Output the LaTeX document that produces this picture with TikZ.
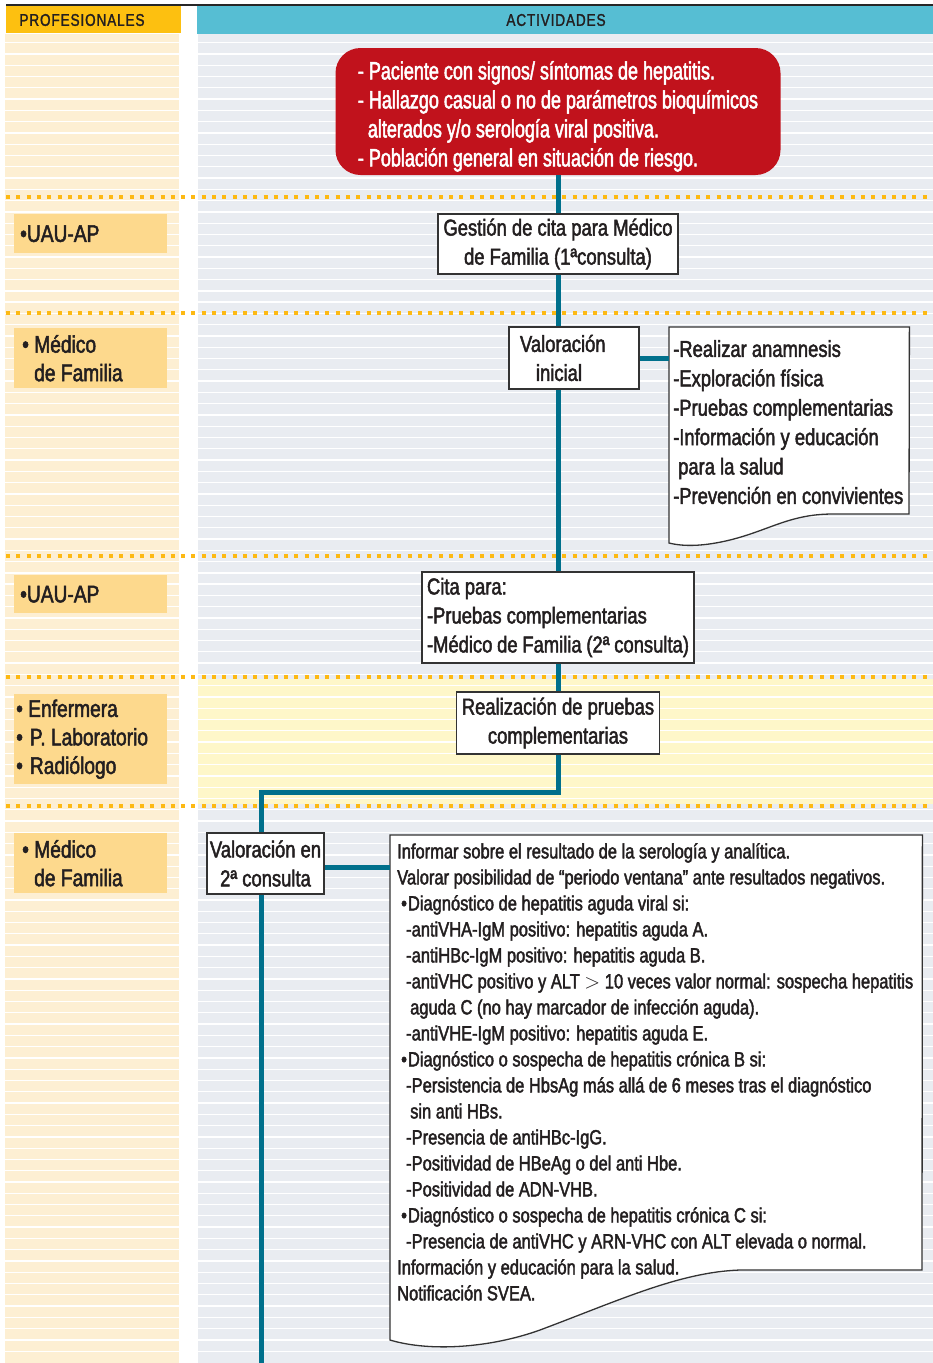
\documentclass[tikz,border=0pt]{standalone}
\usepackage{fontspec}
\setmainfont[FakeStretch=0.8,FakeBold=2]{Liberation Sans}
\newfontfamily\alertfont[FakeStretch=0.72,FakeBold=2]{Liberation Sans}
\newfontfamily\headfont[FakeStretch=0.8,FakeBold=1.5,LetterSpace=5]{Liberation Sans}
\usetikzlibrary{calc}
\definecolor{crema}{HTML}{FDEFD3}
\definecolor{grisfondo}{HTML}{E9ECF1}
\definecolor{amarillo}{HTML}{FEF7C9}
\definecolor{naranja}{HTML}{FDC010}
\definecolor{cian}{HTML}{56BED3}
\definecolor{rolfondo}{HTML}{FDD98D}
\definecolor{puntos}{HTML}{FDB913}
\definecolor{azulflujo}{HTML}{00708C}
\definecolor{rojo}{HTML}{C1121C}
\definecolor{lineagris}{HTML}{333333}
\definecolor{tinta}{HTML}{231F20}

\begin{document}
\begin{tikzpicture}[x=1pt,y=-1pt,
  flowbox/.style={draw=lineagris, line width=1.3pt, fill=white, text=tinta, inner sep=0pt, font=\fontsize{23}{29}\selectfont},
  rolebox/.style={fill=rolfondo, text=tinta, anchor=north west, minimum width=153pt, text width=141pt, inner xsep=6pt, inner ysep=0pt, align=flush left, font=\fontsize{24}{28.5}\selectfont},
  docbox/.style={draw=lineagris, line width=1.3pt, fill=white},
  doctext/.style={anchor=north west, align=left, inner sep=0pt, text=tinta},
  separador/.style={draw=puntos, line width=4pt, dash pattern=on 4pt off 6.3pt},
  flujo/.style={draw=azulflujo, line width=5pt}]
\useasboundingbox (0,0) rectangle (933,1363);

\fill[crema] (5,34) rectangle (179,1363);
\fill[grisfondo] (198,34) rectangle (933,1363);
\fill[amarillo] (198,679) rectangle (933,804);
\foreach \k in {0,...,116}
  \draw[white, line width=1.3pt] (5,{42.7+11.28*\k}) -- (933,{42.7+11.28*\k});

\fill[naranja] (6,6) rectangle (181,33);
\fill[cian] (197,6) rectangle (933,34);
\draw[black!85, line width=2.5pt] (6,5) -- (933,5);
\node[font=\headfont\fontsize{17}{20}\selectfont, text=tinta] (profes) at (82,20) {PROFESIONALES};
\node[font=\headfont\fontsize{17}{20}\selectfont, text=tinta] (activ) at (556,20) {ACTIVIDADES};

\foreach \y in {197.3,312.7,555.7,677,806}
  \draw[separador] (6,\y) -- (933,\y);

\node[rolebox, minimum height=39pt] (uau1) at (14,214) {•UAU-AP};
\node[rolebox, minimum height=60pt] (medico1) at (14,328) {\hspace*{2pt}• Médico\\\hspace*{14pt}de Familia};
\node[rolebox, minimum height=38pt] (uau2) at (14,575) {•UAU-AP};
\node[rolebox, minimum height=90pt] (enfer) at (14,694) {\hspace*{-4pt}• Enfermera\\\hspace*{-4pt}•\hspace{7pt}P. Laboratorio\\\hspace*{-4pt}•\hspace{7pt}Radiólogo};
\node[rolebox, minimum height=60pt] (medico2) at (14,833) {\hspace*{2pt}• Médico\\\hspace*{14pt}de Familia};

\node[fill=rojo, rounded corners=25pt, minimum width=445pt, minimum height=127pt, align=left, text=white, font=\alertfont\fontsize{25}{29}\selectfont] (alerta) at (558,111.5)
  {\rule{0pt}{28pt}- Paciente con signos/ síntomas de hepatitis.\\- Hallazgo casual o no de parámetros bioquímicos\\\hspace*{10pt}alterados y/o serología viral  positiva.\\- Población general en situación de riesgo.};

\node[flowbox, minimum width=240pt, minimum height=60pt, align=center] (gestion) at (558,244) {Gestión de cita para Médico\\de Familia (1ªconsulta)};
\node[flowbox, minimum width=130pt, minimum height=62pt, text width=108pt, align=flush left] (valini) at (574,358) {Valoración\\\hspace*{16pt}inicial};

\node[anchor=north west, minimum width=240pt, minimum height=218pt, inner sep=0pt] (tareas) at (669,327) {};
\draw[docbox] (tareas.north west) -- (tareas.north east) -- (909,514) -- (833,514)
  .. controls (790,514) and (770,530) .. (730,540)
  .. controls (705,546) and (685,547) .. (669,543) -- cycle;
\node[doctext, font=\fontsize{23}{29.4}\selectfont] (tareastxt) at (673,340)
  {-Realizar anamnesis\\-Exploración física\\-Pruebas complementarias\\-Información y educación\\\hspace*{5pt}para la salud\\-Prevención en convivientes};

\node[flowbox, minimum width=272pt, minimum height=91pt, text width=262pt, align=flush left] (cita) at (558,617.5) {Cita para:\\-Pruebas complementarias\\-Médico de Familia (2ª consulta)};
\node[flowbox, minimum width=203pt, minimum height=62pt, align=center] (realiz) at (558,723) {Realización de pruebas\\complementarias};
\node[flowbox, minimum width=117pt, minimum height=61pt, align=center] (val2) at (265.5,863.5) {Valoración en\\2ª consulta};

\node[anchor=north west, minimum width=532pt, minimum height=505pt, inner sep=0pt] (informe) at (390,835) {};
\draw[docbox] (informe.north west) -- (informe.north east) -- (922,1270) -- (740,1270)
  .. controls (680,1272) and (620,1300) .. (540,1330)
  .. controls (490,1348) and (430,1352) .. (390,1340) -- cycle;
\node[doctext, font=\fontsize{20.6}{26}\selectfont] (informetxt) at (397,843)
  {Informar sobre el resultado de la serología y analítica.\\
   Valorar posibilidad de “periodo ventana” ante resultados negativos.\\
   \hspace*{4pt}•\hspace{1pt}Diagnóstico de hepatitis aguda viral si:\\
   \hspace*{9pt}-antiVHA-IgM positivo: hepatitis aguda A.\\
   \hspace*{9pt}-antiHBc-IgM  positivo: hepatitis aguda B.\\
   \hspace*{9pt}-antiVHC positivo y ALT $>$ 10 veces valor normal: sospecha hepatitis\\
   \hspace*{13pt}aguda C (no hay marcador de infección aguda).\\
   \hspace*{9pt}-antiVHE-IgM positivo: hepatitis aguda E.\\
   \hspace*{4pt}•\hspace{1pt}Diagnóstico o sospecha de hepatitis  crónica B si:\\
   \hspace*{9pt}-Persistencia de HbsAg más allá de 6 meses tras el diagnóstico\\
   \hspace*{13pt}sin anti HBs.\\
   \hspace*{9pt}-Presencia de antiHBc-IgG.\\
   \hspace*{9pt}-Positividad de HBeAg o del anti Hbe.\\
   \hspace*{9pt}-Positividad de ADN-VHB.\\
   \hspace*{4pt}•\hspace{1pt}Diagnóstico o sospecha de hepatitis  crónica C si:\\
   \hspace*{9pt}-Presencia de antiVHC y ARN-VHC con  ALT elevada o normal.\\
   Información y  educación para la salud.\\
   Notificación SVEA.};

\draw[flujo] (alerta.south) -- (gestion.north);
\draw[flujo] (gestion.south) -- (gestion.south |- valini.north);
\draw[flujo] (gestion.south |- valini.south) -- (cita.north);
\draw[flujo] (valini.east) -- (valini.east -| tareas.west);
\draw[flujo] (cita.south) -- (realiz.north);
\coordinate (codo) at (261,792);
\coordinate (fin) at (261,1363);
\draw[flujo] (realiz.south) |- (codo) -- (codo |- val2.north);
\draw[flujo] (fin |- val2.south) -- (fin);
\draw[flujo] ([yshift=-4pt]val2.east) -- ([yshift=-4pt]val2.east -| informe.west);
\end{tikzpicture}
\end{document}
